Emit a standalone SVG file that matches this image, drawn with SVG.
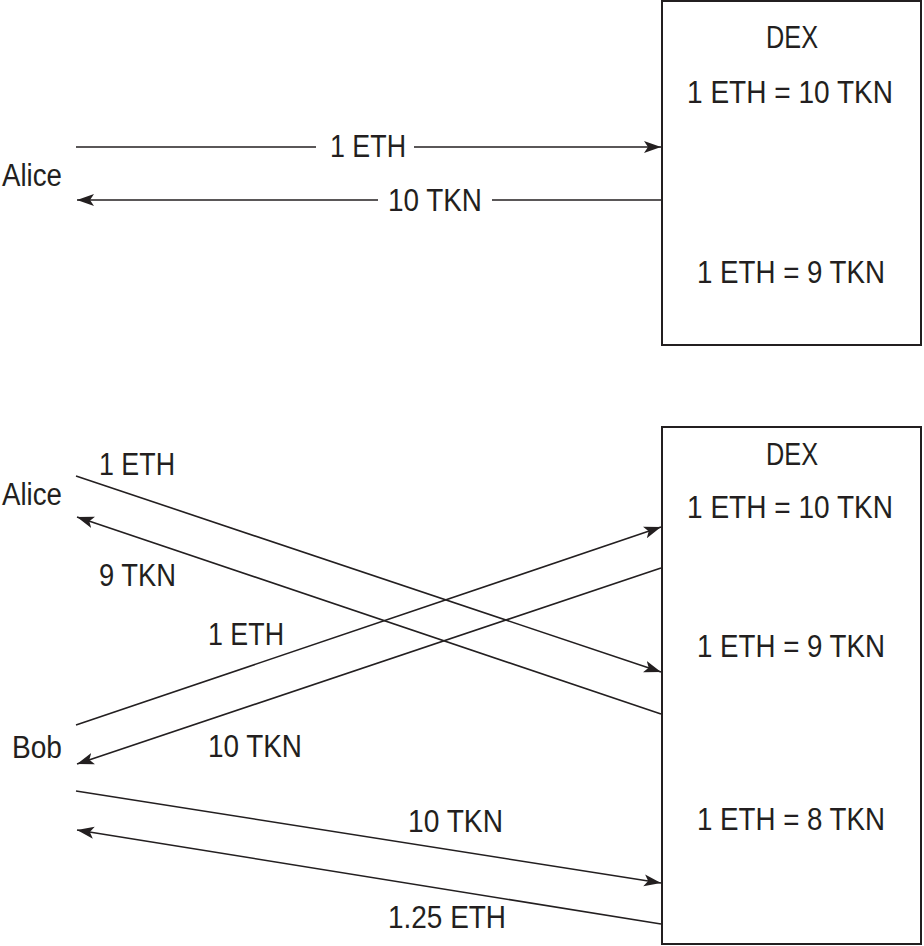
<svg xmlns="http://www.w3.org/2000/svg" width="924" height="946" viewBox="0 0 924 946">
<defs>
<style>
text{font-family:"Liberation Sans",Arial,sans-serif;font-size:31px;fill:#231f20}
.c{text-anchor:middle}
.box{fill:#fff;stroke:#231f20;stroke-width:2}
.ln{stroke:#231f20;stroke-width:1.6;fill:none}
.ar{marker-end:url(#ah)}
</style>
<marker id="ah" markerUnits="userSpaceOnUse" markerWidth="18" markerHeight="14" viewBox="0 0 18 14" refX="17" refY="7" orient="auto">
<path d="M0,1 L17,7 L0,13 L4,7 Z" fill="#231f20"/>
</marker>
</defs>
<rect width="924" height="946" fill="#fff"/>
<g id="dex-top">
<rect class="box" x="662" y="1" width="259" height="344"/>
<text class="c" x="792" y="48" textLength="52" lengthAdjust="spacingAndGlyphs">DEX</text>
<text class="c" x="790" y="103" textLength="206" lengthAdjust="spacingAndGlyphs">1 ETH = 10 TKN</text>
<text class="c" x="791" y="283" textLength="188" lengthAdjust="spacingAndGlyphs">1 ETH = 9 TKN</text>
</g>
<g id="alice-top">
<text x="2" y="186" textLength="60" lengthAdjust="spacingAndGlyphs">Alice</text>
</g>
<g id="dex-bottom">
<rect class="box" x="662" y="427" width="259" height="517"/>
<text class="c" x="792" y="465" textLength="52" lengthAdjust="spacingAndGlyphs">DEX</text>
<text class="c" x="790" y="518" textLength="206" lengthAdjust="spacingAndGlyphs">1 ETH = 10 TKN</text>
<text class="c" x="791" y="657" textLength="188" lengthAdjust="spacingAndGlyphs">1 ETH = 9 TKN</text>
<text class="c" x="791" y="830" textLength="188" lengthAdjust="spacingAndGlyphs">1 ETH = 8 TKN</text>
</g>
<g id="alice-bottom">
<text x="2" y="505" textLength="60" lengthAdjust="spacingAndGlyphs">Alice</text>
</g>
<g id="bob">
<text x="12" y="758" textLength="50" lengthAdjust="spacingAndGlyphs">Bob</text>
</g>
<g id="connectors">
<line class="ln" x1="76" y1="147" x2="316" y2="147"/>
<line class="ln ar" x1="414" y1="147" x2="661" y2="147"/>
<text x="330" y="157" textLength="76" lengthAdjust="spacingAndGlyphs">1 ETH</text>
<line class="ln" x1="661" y1="200" x2="492" y2="200"/>
<line class="ln ar" x1="378" y1="200" x2="77" y2="200"/>
<text x="388" y="211" textLength="94" lengthAdjust="spacingAndGlyphs">10 TKN</text>

<line class="ln ar" x1="76" y1="476" x2="661" y2="672"/>
<text x="99" y="475" textLength="76" lengthAdjust="spacingAndGlyphs">1 ETH</text>
<line class="ln ar" x1="661" y1="714" x2="77" y2="517"/>
<text x="99" y="586" textLength="77" lengthAdjust="spacingAndGlyphs">9 TKN</text>
<line class="ln ar" x1="76" y1="725" x2="661" y2="527"/>
<text x="208" y="645" textLength="76" lengthAdjust="spacingAndGlyphs">1 ETH</text>
<line class="ln ar" x1="661" y1="568" x2="77" y2="764"/>
<text x="208" y="757" textLength="94" lengthAdjust="spacingAndGlyphs">10 TKN</text>

<line class="ln ar" x1="76" y1="791" x2="661" y2="883"/>
<text x="408" y="832" textLength="95" lengthAdjust="spacingAndGlyphs">10 TKN</text>
<line class="ln ar" x1="661" y1="924" x2="77" y2="830"/>
<text x="388" y="928" textLength="118" lengthAdjust="spacingAndGlyphs">1.25 ETH</text>
</g>
</svg>
